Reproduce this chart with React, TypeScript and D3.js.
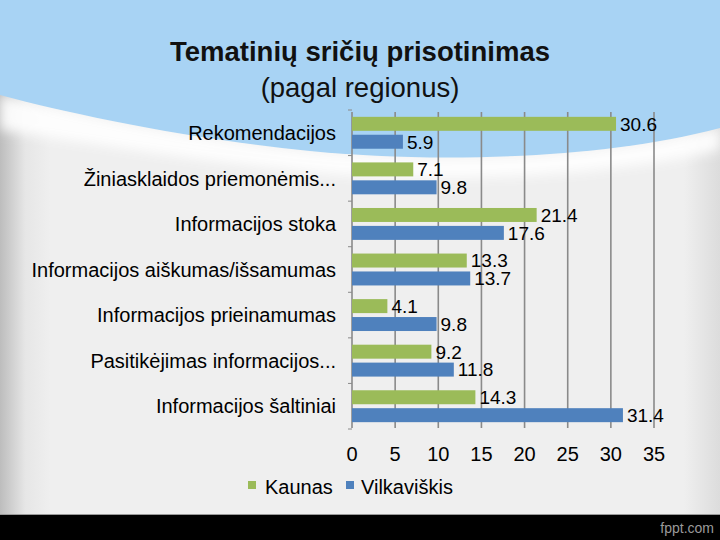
import * as d3 from 'd3';

const categories = [
  'Rekomendacijos',
  'Žiniasklaidos priemonėmis...',
  'Informacijos stoka',
  'Informacijos aiškumas/išsamumas',
  'Informacijos prieinamumas',
  'Pasitikėjimas informacijos...',
  'Informacijos šaltiniai',
];

const kaunas = [30.6, 7.1, 21.4, 13.3, 4.1, 9.2, 14.3];
const vilkaviskis = [5.9, 9.8, 17.6, 13.7, 9.8, 11.8, 31.4];

const seriesNames = ['Kaunas', 'Vilkaviškis'];
const seriesColors = ['#9BBB59', '#4F81BD'];
const xTicks = [0, 5, 10, 15, 20, 25, 30, 35];

const W = 720;
const H = 540;
const FONT = '"Liberation Sans", Arial, sans-serif';

export default function App() {
  const x = d3.scaleLinear().domain([0, 35]).range([352, 654]);
  const y = d3.scaleBand<string>().domain(categories).range([110, 429]).paddingInner(0.3).paddingOuter(0.15);
  const inner = d3.scaleBand<string>().domain(seriesNames).range([0, y.bandwidth()]).paddingInner(0.22);
  const series = [kaunas, vilkaviskis];
  const step = y.step();

  // background swoosh
  const swoosh = d3.path();
  swoosh.moveTo(0, 0);
  swoosh.lineTo(W, 0);
  swoosh.lineTo(W, 128);
  swoosh.bezierCurveTo(600, 160, 430, 163, 310, 151);
  swoosh.bezierCurveTo(190, 139, 70, 114, 0, 95);
  swoosh.closePath();

  const glow = d3.path();
  glow.moveTo(0, 95);
  glow.bezierCurveTo(70, 114, 190, 139, 310, 151);
  glow.bezierCurveTo(430, 163, 600, 160, W, 128);
  glow.lineTo(W, 150);
  glow.bezierCurveTo(600, 178, 430, 184, 310, 172);
  glow.bezierCurveTo(190, 160, 70, 140, 0, 130);
  glow.closePath();

  return (
    <svg width={W} height={H} style={{ position: 'absolute', left: 0, top: 0 }} fontFamily={FONT}>
      <defs>
        <linearGradient id="leftShade" x1="0" x2="1" y1="0" y2="0">
          <stop offset="0" stopColor="#bdbdbd" />
          <stop offset="0.035" stopColor="#e6e6e6" />
          <stop offset="0.07" stopColor="#efefef" />
          <stop offset="0.95" stopColor="#efefef" />
          <stop offset="1" stopColor="#dcdcdc" />
        </linearGradient>
        <filter id="blur" x="-10%" y="-50%" width="120%" height="200%">
          <feGaussianBlur stdDeviation="6" />
        </filter>
      </defs>

      <rect x={0} y={0} width={W} height={H} fill="url(#leftShade)" />
      <path d={glow.toString()} fill="#ffffff" opacity={0.9} filter="url(#blur)" />
      <path d={swoosh.toString()} fill="#A8D3F4" />

      <text x={360} y={61} textAnchor="middle" fontSize={27.5} fontWeight="bold" fill="#111">
        Tematinių sričių prisotinimas
      </text>
      <text x={360} y={97} textAnchor="middle" fontSize={27.5} fill="#111">
        (pagal regionus)
      </text>

      {/* gridlines */}
      {xTicks.map((t) => (
        <line key={t} x1={x(t)} x2={x(t)} y1={112} y2={428} stroke="#8a8a8a" strokeWidth={1.6} />
      ))}
      {/* category axis ticks */}
      {d3.range(categories.length + 1).map((i) => (
        <line key={i} x1={x(0) - 4} x2={x(0)} y1={110 + i * step} y2={110 + i * step} stroke="#8a8a8a" strokeWidth={1} />
      ))}

      {/* bars */}
      {categories.map((c, i) => (
        <g key={c}>
          {series.map((vals, s) => {
            const by = (y(c) ?? 0) + (inner(seriesNames[s]) ?? 0);
            return (
              <g key={s}>
                <rect x={x(0)} y={by} width={x(vals[i]) - x(0)} height={inner.bandwidth()} fill={seriesColors[s]} />
                <text x={x(vals[i]) + 4} y={by + inner.bandwidth() / 2} dy="0.36em" fontSize={19} fill="#000">
                  {vals[i]}
                </text>
              </g>
            );
          })}
          <text x={336} y={(y(c) ?? 0) + y.bandwidth() / 2} dy="0.36em" textAnchor="end" fontSize={20} fill="#000">
            {c}
          </text>
        </g>
      ))}

      {/* x tick labels */}
      {xTicks.map((t) => (
        <text key={t} x={x(t)} y={454} dy="0.36em" textAnchor="middle" fontSize={20} fill="#000">
          {t}
        </text>
      ))}

      {/* legend */}
      <rect x={248} y={481} width={8} height={8} fill={seriesColors[0]} />
      <text x={265} y={487} dy="0.36em" fontSize={20} fill="#000">{seriesNames[0]}</text>
      <rect x={346} y={481} width={8} height={8} fill={seriesColors[1]} />
      <text x={361} y={487} dy="0.36em" fontSize={20} fill="#000">{seriesNames[1]}</text>

      {/* footer */}
      <rect x={0} y={514} width={W} height={1.5} fill="#9a9a9a" />
      <rect x={0} y={515} width={W} height={25} fill="#000" />
      <text x={714} y={528} dy="0.36em" textAnchor="end" fontSize={14} fill="#9a9a9a">fppt.com</text>
    </svg>
  );
}
